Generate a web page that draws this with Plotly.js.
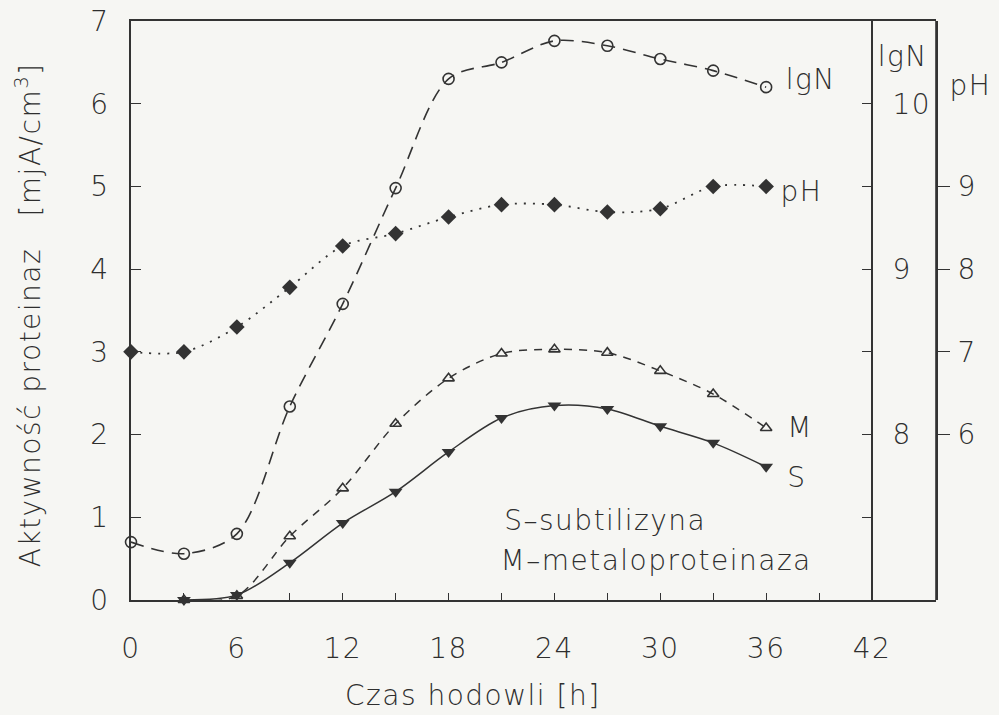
<!DOCTYPE html>
<html>
<head>
<meta charset="utf-8">
<script src="https://cdn.plot.ly/plotly-3.0.1.min.js"></script>
<style>
  html, body { margin: 0; padding: 0; background: #f6f6f3; }
  #chart { width: 999px; height: 715px; }
  #chart text { letter-spacing: 1.5px; }
</style>
</head>
<body>
<div id="chart"></div>
<script>
// ---- data ----
const hours = [0, 3, 6, 9, 12, 15, 18, 21, 24, 27, 30, 33, 36];
const hoursMS = [3, 6, 9, 12, 15, 18, 21, 24, 27, 30, 33, 36];
const lgN = [7.35, 7.28, 7.40, 8.17, 8.79, 9.49, 10.15, 10.25, 10.38, 10.35, 10.27, 10.20, 10.10];
const pH = [7.00, 7.00, 7.30, 7.78, 8.28, 8.43, 8.63, 8.78, 8.78, 8.69, 8.73, 9.00, 9.00];
const M_metalo = [0.00, 0.05, 0.77, 1.35, 2.13, 2.68, 2.98, 3.03, 2.99, 2.77, 2.49, 2.08];
const S_subtil = [0.00, 0.06, 0.45, 0.93, 1.31, 1.79, 2.20, 2.35, 2.31, 2.10, 1.90, 1.61];

const xTickVals = [0, 3, 6, 9, 12, 15, 18, 21, 24, 27, 30, 33, 36, 39, 42];
const xTickText = ['0', '', '6', '', '12', '', '18', '', '24', '', '30', '', '36', '', '42'];
const yTickVals = [0, 1, 2, 3, 4, 5, 6, 7];
const lgNTickVals = [7.5, 8, 8.5, 9, 9.5, 10];
const lgNTickText = ['', '8', '', '9', '', '10'];
const pHTickVals = [6, 7, 8, 9];

// ---- style ----
const INK = '#333333';
const TXT = '#2e2e2e';
const FONT = 'DejaVu Sans, Liberation Sans, sans-serif';
const tickFont = { family: FONT, size: 28, color: TXT, weight: 200 };
const labFont = { family: FONT, size: 28, color: TXT, weight: 200 };

// framed area: 131..936 px wide (time axis 0..42 h ends at 872 px, where the lgN scale sits)
const L = 131, T = 21, W = 805, H = 579, WMAIN = 741;
const xMax = 42;
const xFrameMax = xMax * W / WMAIN;
const lgNPos = WMAIN / W;
const px = (p) => (p - L) / W;
const py = (p) => 1 - (p - T) / H;

const traces = [
  {
    x: hours, y: lgN, yaxis: 'y2', name: 'lgN', mode: 'lines+markers',
    line: { color: INK, width: 1.6, dash: '13px,8px', shape: 'spline', smoothing: 0.9 },
    marker: { symbol: 'circle-open', size: 11, color: INK, line: { width: 1.6, color: INK } },
    cliponaxis: false
  },
  {
    x: hours, y: pH, yaxis: 'y3', name: 'pH', mode: 'lines+markers',
    line: { color: INK, width: 1.8, dash: '2px,7px', shape: 'spline', smoothing: 0.9 },
    marker: { symbol: 'diamond', size: 12, color: INK },
    cliponaxis: false
  },
  {
    x: hoursMS, y: M_metalo, yaxis: 'y', name: 'M', mode: 'lines+markers',
    line: { color: INK, width: 1.5, dash: '8px,7px', shape: 'spline', smoothing: 0.9 },
    marker: { symbol: 'triangle-up-open', size: 10, color: INK, line: { width: 1.6, color: INK } },
    cliponaxis: false
  },
  {
    x: hoursMS, y: S_subtil, yaxis: 'y', name: 'S', mode: 'lines+markers',
    line: { color: INK, width: 1.5, shape: 'spline', smoothing: 0.9 },
    marker: { symbol: 'triangle-down', size: 12, color: INK },
    cliponaxis: false
  }
];

const ann = (x, y, text, opts) => Object.assign({
  xref: 'paper', yref: 'paper', x: x, y: y, text: text, showarrow: false,
  font: labFont, xanchor: 'left', yanchor: 'middle'
}, opts || {});

const layout = {
  width: 999, height: 715,
  margin: { l: L, r: 999 - L - W, t: T, b: 715 - T - H },
  paper_bgcolor: '#f6f6f3', plot_bgcolor: 'rgba(0,0,0,0)',
  showlegend: false,
  font: { family: FONT, color: TXT },
  xaxis: {
    domain: [0, 1], range: [0, xFrameMax], showgrid: false, zeroline: false,
    showline: true, mirror: true, linecolor: INK, linewidth: 1.6,
    ticks: 'inside', ticklen: 7, tickwidth: 1.4, tickcolor: INK,
    tickvals: xTickVals, ticktext: xTickText, tickfont: tickFont,
    ticklabelstandoff: 23
  },
  yaxis: {
    domain: [0, 1], range: [0, 7], showgrid: false, zeroline: false,
    showline: true, linecolor: INK, linewidth: 1.6,
    ticks: 'inside', ticklen: 10, tickwidth: 1.4, tickcolor: INK,
    tickvals: yTickVals, tickfont: tickFont, ticklabelstandoff: 14
  },
  yaxis2: {
    overlaying: 'y', side: 'right', anchor: 'free', position: lgNPos,
    range: [7, 10.5], showgrid: false, zeroline: false,
    showline: true, linecolor: INK, linewidth: 1.6,
    ticks: 'inside', ticklen: 9, tickwidth: 1.4, tickcolor: INK,
    tickvals: lgNTickVals, ticktext: lgNTickText, tickfont: tickFont, ticklabelstandoff: 14
  },
  yaxis3: {
    domain: [0, 1], side: 'right', anchor: 'x',
    range: [4, 11], showgrid: false, zeroline: false,
    showline: true, linecolor: INK, linewidth: 1.6,
    ticks: 'outside', ticklen: 12, tickwidth: 1.4, tickcolor: INK,
    tickvals: pHTickVals, tickfont: tickFont, ticklabelstandoff: 2
  },
  shapes: [
    // right edge of the frame (the pH scale line)
    { type: 'line', xref: 'paper', yref: 'paper', x0: 1, x1: 1, y0: 0, y1: 1, line: { color: INK, width: 1.6 } }
  ],
  annotations: [
    ann(px(473), py(695), 'Czas hodowli [h]', { xanchor: 'center' }),
    ann(px(28), py(315), 'Aktywność proteinaz\u00A0\u00A0\u00A0[mjA/cm<sup>3</sup>]', { xanchor: 'center', textangle: -90 }),
    ann(px(786), py(80), 'lgN'),
    ann(px(780), py(192), 'pH'),
    ann(px(786), py(427), 'M'),
    ann(px(786), py(477), 'S'),
    ann(px(512), py(520), 'S\u2013subtilizyna'),
    ann(px(512), py(560), 'M\u2013metaloproteinaza'),
    ann(px(903), py(56), 'lgN', { xanchor: 'center' }),
    ann(px(970), py(85), 'pH', { xanchor: 'center' })
  ]
};

Plotly.newPlot('chart', traces, layout, { displayModeBar: false });
</script>
</body>
</html>
